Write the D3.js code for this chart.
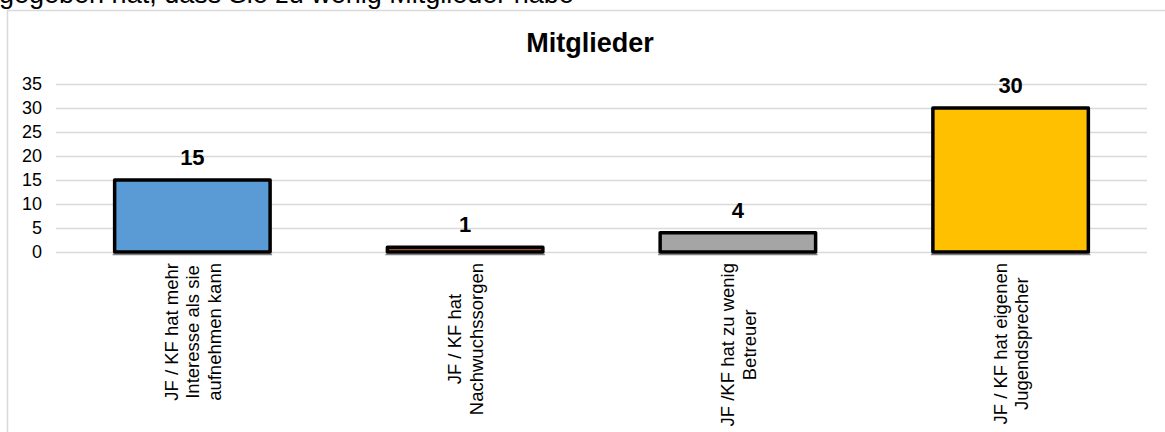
<!DOCTYPE html>
<html><head><meta charset="utf-8">
<script src="https://cdn.jsdelivr.net/npm/d3@7"></script>
<style>
html,body{margin:0;padding:0;background:#fff;overflow:hidden}
svg{display:block;font-family:"Liberation Sans",Arial,sans-serif}
</style></head>
<body>
<svg id="chart" width="1165" height="432"></svg>
<script>
const title = "Mitglieder";
const topText = "gegeben hat, dass Sie zu wenig Mitglieder habe";
const categories = [
  ["JF / KF hat mehr", "Interesse als sie", "aufnehmen kann"],
  ["JF / KF hat", "Nachwuchssorgen"],
  ["JF /KF hat zu wenig", "Betreuer"],
  ["JF / KF hat eigenen", "Jugendsprecher"]
];
const values = [15, 1, 4, 30];
const colors = ["#5B9BD5", "#A0522D", "#A5A5A5", "#FFC000"];
const yTicks = [0, 5, 10, 15, 20, 25, 30, 35];

const svg = d3.select("#chart");

// cut-off document text above the chart (as in the source page)
svg.append("text").attr("x", -1).attr("y", 3)
  .attr("font-size", 27).attr("fill", "#000").text(topText);

// chart frame
svg.append("rect").attr("x", 7.5).attr("y", 10.5).attr("width", 1170).attr("height", 440)
  .attr("fill", "#fff").attr("stroke", "#D9D9D9").attr("stroke-width", 1.5);

const x = d3.scaleBand().domain(d3.range(values.length)).range([56, 1147]).paddingInner(0.43).paddingOuter(0.215);
const y = d3.scaleLinear().domain([0, 35]).range([252, 84]);

// title
svg.append("text").attr("x", 590).attr("y", 52).attr("text-anchor", "middle")
  .attr("font-size", 27).attr("font-weight", "bold").text(title);

// gridlines + tick labels
const yAxis = d3.axisLeft(y).tickValues(yTicks).tickSize(-(1147 - 56)).tickPadding(14);
const gy = svg.append("g").attr("transform", "translate(56,0)").call(yAxis);
gy.select(".domain").remove();
gy.selectAll(".tick line").attr("stroke", "#D9D9D9").attr("stroke-width", 1.5);
gy.selectAll(".tick text").attr("font-size", 18).attr("fill", "#000")
  .attr("font-family", "'Liberation Sans',Arial,sans-serif");

// bar shadows below
svg.append("g").selectAll("line").data(values).join("line")
  .attr("x1", (d, i) => x(i) - 2).attr("x2", (d, i) => x(i) + x.bandwidth() + 2)
  .attr("y1", y(0) + 2.5).attr("y2", y(0) + 2.5)
  .attr("stroke", "#7F7F7F").attr("stroke-width", 1.5);

// bars
svg.append("g").selectAll("rect").data(values).join("rect")
  .attr("x", (d, i) => x(i)).attr("width", x.bandwidth())
  .attr("y", d => y(d)).attr("height", d => y(0) - y(d))
  .attr("fill", (d, i) => colors[i]).attr("stroke", "#000").attr("stroke-width", 3.5)
  .attr("stroke-linejoin", "round");

// value labels
svg.append("g").selectAll("text").data(values).join("text")
  .attr("x", (d, i) => x(i) + x.bandwidth() / 2).attr("y", d => y(d) - 15)
  .attr("text-anchor", "middle").attr("font-size", 22).attr("font-weight", "bold")
  .text(d => d);

// category labels (rotated)
const lineGap = 21.5;
categories.forEach((lines, i) => {
  const cx = x(i) + x.bandwidth() / 2;
  const g = svg.append("g");
  const t = g.append("text").attr("font-size", 18.5).attr("fill", "#000").attr("text-anchor", "middle");
  lines.forEach((ln, j) => {
    t.append("tspan").attr("x", 0).attr("y", (j - (lines.length - 1) / 2) * lineGap + 7).text(ln);
  });
  let maxLen = 0;
  t.selectAll("tspan").each(function () { maxLen = Math.max(maxLen, this.getComputedTextLength()); });
  g.attr("transform", `translate(${cx},${263 + maxLen / 2}) rotate(-90)`);
});
</script>
</body></html>
